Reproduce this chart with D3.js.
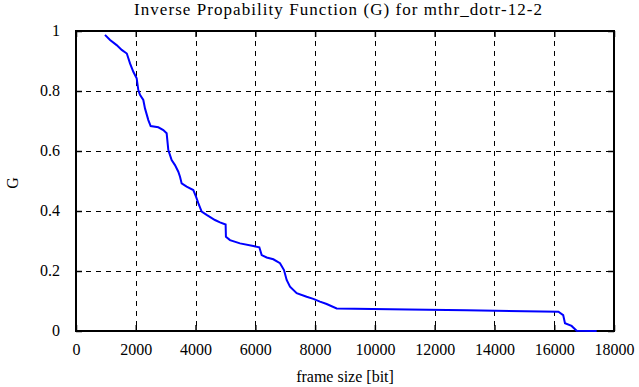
<!DOCTYPE html>
<html><head><meta charset="utf-8">
<script src="https://cdn.jsdelivr.net/npm/d3@7"></script>
<style>body{margin:0;background:#fff}svg{display:block}svg text{font-family:"Liberation Serif","Times New Roman",serif !important;fill:#000}</style>
</head><body><svg id="c" width="639" height="387"></svg>
<script>
const title = "Inverse Propability Function (G) for mthr_dotr-12-2";
const xLabel = "frame size [bit]";
const yLabel = "G";
const xTicks = [0,2000,4000,6000,8000,10000,12000,14000,16000,18000];
const yTicks = [0,0.2,0.4,0.6,0.8,1];
const yTickLabels = ["0","0.2","0.4","0.6","0.8","1"];
const frameSize = [970,1140,1360,1530,1700,1807,1918,2030,2085,2141,2252,2308,2420,2498,2754,2921,3033,3089,3200,3312,3423,3480,3535,3702,3925,4015,4092,4204,4370,4650,4817,5006,5016,5152,5487,5933,6134,6212,6379,6602,6825,6959,7048,7160,7383,7717,7940,8163,8386,8721,11120,13070,15020,16140,16300,16360,16580,16750,17420];
const gValue = [0.987,0.970,0.953,0.937,0.925,0.892,0.864,0.842,0.803,0.787,0.770,0.742,0.703,0.683,0.679,0.670,0.659,0.603,0.570,0.553,0.531,0.514,0.492,0.481,0.470,0.448,0.426,0.398,0.387,0.370,0.362,0.355,0.314,0.303,0.292,0.283,0.279,0.253,0.245,0.239,0.226,0.203,0.170,0.148,0.126,0.114,0.107,0.098,0.090,0.075,0.072,0.069,0.066,0.064,0.053,0.026,0.017,0.001,0.0];

const svg = d3.select("#c");
const L=76,R=614,T=31,B=331;
const x = d3.scaleLinear().domain([0,18000]).range([L,R]);
const y = d3.scaleLinear().domain([0,1]).range([B,T]);

// grid
const g = svg.append("g");
g.selectAll("line.vx").data(xTicks.slice(1,-1)).join("line")
 .attr("x1",d=>Math.round(x(d))+0.5).attr("x2",d=>Math.round(x(d))+0.5).attr("y1",T).attr("y2",B)
 .attr("stroke","#000").attr("stroke-width",1).attr("stroke-dasharray","5,5");
g.selectAll("line.hy").data(yTicks.slice(1,-1)).join("line")
 .attr("x1",L).attr("x2",R).attr("y1",d=>Math.round(y(d))+0.5).attr("y2",d=>Math.round(y(d))+0.5)
 .attr("stroke","#000").attr("stroke-width",1).attr("stroke-dasharray","5,5");

// axes with inward ticks
const ax = (gen, tr) => svg.append("g").attr("transform",tr)
  .call(gen).call(s=>{s.attr("font-family",null).attr("font-size",null); s.select(".domain").remove(); s.selectAll("line").attr("stroke","#000").attr("stroke-width",1.5);});
const bx = ax(d3.axisBottom(x).tickValues(xTicks).tickSizeInner(-6).tickSizeOuter(0).tickPadding(12).tickFormat(d3.format("d")), `translate(0,${B})`);
bx.selectAll("text").style("font-size","16px").attr("dy","0.75em");
ax(d3.axisTop(x).tickValues(xTicks).tickSizeInner(-6).tickSizeOuter(0).tickFormat(""), `translate(0,${T})`);
const ly = ax(d3.axisLeft(y).tickValues(yTicks).tickSizeInner(-6).tickSizeOuter(0).tickPadding(16).tickFormat((d,i)=>yTickLabels[i]), `translate(${L},0)`);
ly.selectAll("text").style("font-size","16px").attr("dy","0.3em");
ax(d3.axisRight(y).tickValues(yTicks).tickSizeInner(-6).tickSizeOuter(0).tickFormat(""), `translate(${R},0)`);

// frame
svg.append("rect").attr("x",L).attr("y",T).attr("width",R-L).attr("height",B-T)
 .attr("fill","none").attr("stroke","#000").attr("stroke-width",2);

// line
const pts = frameSize.map((f,i)=>[f,gValue[i]]);
svg.append("path").datum(pts).attr("fill","none").attr("stroke","#0000ff").attr("stroke-width",2)
 .attr("d", d3.line().x(d=>x(d[0])).y(d=>y(d[1])));

// texts
svg.append("text").attr("x",338).attr("y",15).attr("text-anchor","middle").style("font-size","17px")
 .attr("textLength",408).attr("lengthAdjust","spacing").text(title);
svg.append("text").attr("x",345).attr("y",382).attr("text-anchor","middle").style("font-size","16px").text(xLabel);
svg.append("text").attr("transform","translate(18,183) rotate(-90)").attr("text-anchor","middle").style("font-size","16px").text(yLabel);
</script></body></html>
